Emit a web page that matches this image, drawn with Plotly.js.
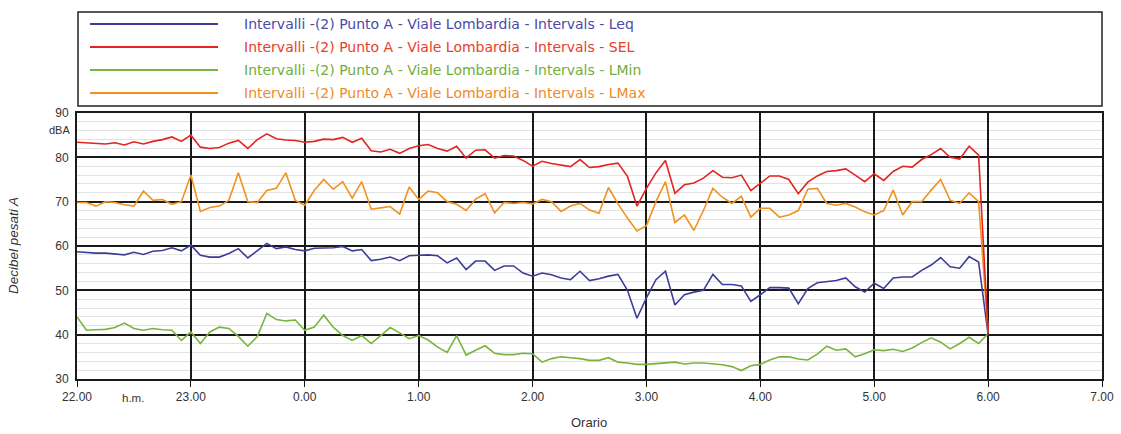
<!DOCTYPE html>
<html>
<head>
<meta charset="utf-8">
<script src="https://cdn.plot.ly/plotly-3.0.1.min.js"></script>
<style>
  html, body { margin: 0; padding: 0; background: #fff; }
  #chart { width: 1121px; height: 434px; }
</style>
</head>
<body>
<div id="chart"></div>
<script>
// Sampling: one value every 5 minutes, from 22.00 to 6.00
const startHour = 22;
const intervalMinutes = 5;

const hourTicks = [22, 23, 24, 25, 26, 27, 28, 29, 30, 31];
const hourLabels = ["22.00", "23.00", "0.00", "1.00", "2.00", "3.00", "4.00", "5.00", "6.00", "7.00"];

const seriesNames = [
  "Intervalli -(2) Punto A - Viale Lombardia - Intervals - Leq",
  "Intervalli -(2) Punto A - Viale Lombardia - Intervals - SEL",
  "Intervalli -(2) Punto A - Viale Lombardia - Intervals - LMin",
  "Intervalli -(2) Punto A - Viale Lombardia - Intervals - LMax"
];

const leq = [
  58.7, 58.5, 58.4, 58.4, 58.2, 58.0, 58.6, 58.1, 58.8, 59.0, 59.6, 58.9,
  60.2, 57.9, 57.5, 57.5, 58.3, 59.4, 57.3, 58.9, 60.6, 59.4, 59.8, 59.2,
  58.9, 59.5, 59.6, 59.6, 59.9, 58.9, 59.2, 56.7, 57.0, 57.5, 56.7, 57.8,
  57.9, 58.0, 57.8, 56.2, 57.3, 54.7, 56.6, 56.6, 54.5, 55.5, 55.5, 53.9,
  53.2, 53.9, 53.5, 52.8, 52.4, 54.3, 52.2, 52.6, 53.2, 53.6, 50.0, 43.7,
  48.3, 52.4, 54.3, 46.7, 49.0, 49.6, 50.0, 53.6, 51.3, 51.3, 51.0, 47.5,
  49.0, 50.6, 50.6, 50.5, 47.0, 50.4, 51.7, 51.9, 52.2, 52.8, 50.8, 49.6,
  51.6, 50.4, 52.8, 53.0, 53.0, 54.5, 55.7, 57.4, 55.3, 55.0, 57.6, 56.4,
  40.0
];

const sel = [
  83.4, 83.3, 83.2, 83.0, 83.3, 82.8, 83.5, 83.0, 83.6, 84.0, 84.6, 83.6,
  85.0, 82.3, 82.0, 82.2, 83.2, 83.8, 82.0, 84.0, 85.3, 84.2, 83.9, 83.8,
  83.4, 83.6, 84.1, 84.0, 84.5, 83.4, 84.3, 81.5, 81.2, 81.8, 80.9, 82.0,
  82.6, 82.9, 82.0, 81.4, 82.5, 79.8, 81.6, 81.7, 79.8, 80.4, 80.3, 79.3,
  78.0, 79.1, 78.6, 78.2, 77.9, 79.5, 77.7, 77.9, 78.4, 78.7, 75.7, 69.0,
  73.0, 76.5, 79.3, 71.9, 73.8, 74.2, 75.3, 77.0, 75.5, 75.4, 76.0, 72.5,
  74.2, 75.8, 75.8, 75.0, 71.8, 74.4, 75.8, 76.8, 77.0, 77.4, 76.0, 74.5,
  76.3, 74.8, 76.8, 78.0, 77.8, 79.5, 80.6, 82.0, 80.0, 79.6, 82.5, 80.5,
  40.5
];

const lmin = [
  44.0, 41.0, 41.1, 41.2, 41.6, 42.6, 41.4, 41.0, 41.4, 41.1, 41.0, 38.7,
  40.6, 38.0, 40.6, 41.7, 41.4, 39.6, 37.4, 39.6, 44.8, 43.4, 43.1, 43.3,
  41.0, 41.7, 44.4, 41.7, 39.8, 38.7, 39.8, 38.0, 39.8, 41.6, 40.4, 39.1,
  39.8, 38.8, 37.2, 36.0, 39.8, 35.4, 36.5, 37.5, 35.8, 35.5, 35.5, 35.8,
  35.7, 33.8, 34.6, 35.0, 34.8, 34.6, 34.2, 34.2, 34.8, 33.8, 33.6, 33.3,
  33.3, 33.5, 33.6, 33.8, 33.4, 33.6, 33.6, 33.4, 33.2, 32.8, 31.9, 33.0,
  33.3, 34.3, 35.0, 35.0, 34.5, 34.3, 35.6, 37.4, 36.5, 36.8, 35.0, 35.7,
  36.6, 36.4, 36.7, 36.2, 37.0, 38.2, 39.3, 38.3, 36.8, 38.0, 39.4, 38.0,
  40.2
];

const lmax = [
  69.8, 69.8, 69.0, 70.0, 69.8, 69.3, 69.0, 72.4, 70.3, 70.5, 69.4, 70.0,
  76.0, 67.8, 68.7, 69.0, 70.3, 76.5, 70.0, 69.8, 72.5, 73.0, 76.5, 70.3,
  69.2, 72.5, 75.0, 72.8, 74.5, 70.8, 74.5, 68.3, 68.6, 68.9, 67.2, 73.3,
  70.5, 72.4, 72.0, 70.0, 69.4, 68.0, 70.6, 71.8, 67.5, 69.8, 69.6, 69.8,
  69.5, 70.5, 70.0, 67.8, 69.0, 69.6, 68.1, 67.4, 73.2, 69.5, 66.3, 63.4,
  64.6, 70.0, 74.5, 65.3, 67.0, 63.5, 68.0, 73.0, 71.0, 69.6, 71.2, 66.5,
  68.5, 68.5, 66.5, 67.0, 68.0, 72.8, 73.0, 69.6, 69.2, 69.6, 68.8, 67.7,
  67.0, 68.0, 72.6, 67.0, 70.0, 70.0, 72.6, 75.0, 70.3, 69.6, 72.0, 70.0,
  40.5
];

const lineColors = ["#3d3d99", "#e3241f", "#78b43c", "#f0921e"];
const textColors = ["#4a4aa8", "#e8402a", "#6fae3c", "#f08a28"];

// Time axis in hours past midnight of the start day (24 = 0.00, 30 = 6.00)
const times = leq.map((_, i) => startHour + i * intervalMinutes / 60);

const FONT = "Liberation Sans, Arial, sans-serif";
const KEY_FONT = "DejaVu Sans, Liberation Sans, sans-serif";
const W = 1121, H = 434;
const M = { l: 77, r: 19, t: 113, b: 55 };
const plotW = W - M.l - M.r;
const plotH = H - M.t - M.b;
const px = x => (x - M.l) / plotW;          // page pixel -> paper x
const py = y => (H - M.b - y) / plotH;      // page pixel -> paper y

const seriesValues = [leq, sel, lmin, lmax];
const drawOrder = [2, 0, 3, 1];
const traces = drawOrder.map(k => ({
  type: "scatter",
  mode: "lines",
  x: times,
  y: seriesValues[k],
  name: seriesNames[k],
  line: { color: lineColors[k], width: 1.6 },
  showlegend: false,
  hoverinfo: "x+y"
}));

// Boxed key above the plot
const legendRows = [24, 47, 70, 93];
const shapes = [{
  type: "rect", xref: "paper", yref: "paper",
  x0: px(78), x1: px(1102), y0: py(106), y1: py(12),
  line: { color: "#222", width: 1.5 }, fillcolor: "rgba(0,0,0,0)"
}];
const annotations = [];
seriesNames.forEach((name, k) => {
  shapes.push({
    type: "line", xref: "paper", yref: "paper",
    x0: px(90), x1: px(218), y0: py(legendRows[k]), y1: py(legendRows[k]),
    line: { color: lineColors[k], width: 1.8 }
  });
  annotations.push({
    xref: "paper", yref: "paper", x: px(242), y: py(legendRows[k]),
    xanchor: "left", yanchor: "middle", showarrow: false,
    text: name, font: { family: KEY_FONT, size: 14, color: textColors[k] }
  });
});

annotations.push(
  { xref: "paper", yref: "y", x: 0, y: 86.2, xanchor: "right", yanchor: "middle",
    xshift: -5, showarrow: false, text: "dBA",
    font: { family: FONT, size: 11, color: "#333" } },
  { xref: "paper", yref: "paper", x: px(13), y: py(246), xanchor: "center", yanchor: "middle",
    textangle: -90, showarrow: false, text: "<i>Decibel pesati A</i>",
    font: { family: FONT, size: 13.5, color: "#333" } },
  { xref: "x", yref: "paper", x: 22.49, y: 0, xanchor: "center", yanchor: "top",
    yshift: -11, showarrow: false, text: "h.m.",
    font: { family: FONT, size: 11.5, color: "#333" } },
  { xref: "paper", yref: "paper", x: px(589), y: 0, xanchor: "center", yanchor: "top",
    yshift: -34, showarrow: false, text: "Orario",
    font: { family: FONT, size: 13, color: "#333" } }
);

const layout = {
  width: W, height: H,
  margin: M,
  paper_bgcolor: "#fff",
  plot_bgcolor: "#fff",
  showlegend: false,
  font: { family: FONT, size: 11, color: "#333" },
  xaxis: {
    range: [22, 31],
    tickmode: "array",
    tickvals: hourTicks,
    ticktext: hourLabels,
    showgrid: true, gridcolor: "#1a1a1a", gridwidth: 2,
    zeroline: false,
    showline: true, linecolor: "#1a1a1a", linewidth: 2, mirror: true,
    ticks: "outside", ticklen: 6, tickcolor: "#1a1a1a", tickwidth: 1,
    tickfont: { family: FONT, size: 12, color: "#333" },
    fixedrange: true
  },
  yaxis: {
    range: [30, 90],
    tick0: 30, dtick: 10,
    showgrid: true, gridcolor: "#1a1a1a", gridwidth: 2,
    minor: { dtick: 2, showgrid: true, gridcolor: "#e2e2e2", gridwidth: 1 },
    zeroline: false,
    showline: true, linecolor: "#1a1a1a", linewidth: 2, mirror: true,
    ticks: "", ticklabelstandoff: 4,
    tickfont: { family: FONT, size: 12, color: "#333" },
    fixedrange: true
  },
  shapes: shapes,
  annotations: annotations
};

Plotly.newPlot("chart", traces, layout, { displayModeBar: false, staticPlot: true });
</script>
</body>
</html>
